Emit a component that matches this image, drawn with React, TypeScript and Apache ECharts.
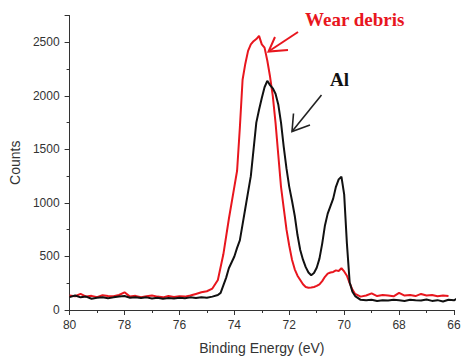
import React, { useEffect, useRef } from "react";
import * as echarts from "echarts";

// XPS Al 2p spectra: wear debris vs. reference Al
const debrisEnergy = [
  80.0, 79.8, 79.6, 79.4, 79.2, 79.0, 78.8, 78.6, 78.4, 78.2, 78.0, 77.8, 77.6, 77.4, 77.2, 77.0,
  76.8, 76.6, 76.4, 76.2, 76.0, 75.8, 75.6, 75.4, 75.2, 75.0, 74.8, 74.6, 74.4, 74.2, 74.0, 73.9,
  73.8, 73.7, 73.6, 73.5, 73.4, 73.3, 73.2, 73.1, 73.0, 72.9, 72.8, 72.7, 72.6, 72.5, 72.4, 72.3,
  72.2, 72.1, 72.0, 71.9, 71.8, 71.7, 71.6, 71.5, 71.4, 71.3, 71.2, 71.1, 71.0, 70.9, 70.8, 70.7,
  70.6, 70.5, 70.4, 70.3, 70.2, 70.1, 70.0, 69.9, 69.8, 69.7, 69.6, 69.4, 69.2, 69.0, 68.8, 68.6,
  68.4, 68.2, 68.0, 67.8, 67.6, 67.4, 67.2, 67.0, 66.8, 66.6, 66.4, 66.2,
];
const debrisCounts = [
  135, 128, 150, 125, 132, 120, 138, 130, 128, 140, 165, 125, 132, 120, 128, 135,
  125, 118, 130, 122, 128, 125, 135, 150, 165, 175, 200, 280, 520, 850, 1150, 1300,
  1700, 2150, 2300, 2420, 2480, 2510, 2530, 2560, 2480, 2450, 2330, 2180, 2000, 1750, 1450, 1150,
  950, 750, 600, 470, 380, 320, 280, 240, 215, 208, 210, 215, 225, 240, 270, 310,
  340, 350, 355, 370, 365, 390, 360, 320, 250, 190, 150, 125, 135, 155, 130, 140,
  135, 128, 160, 135, 140, 130, 150, 135, 140, 128, 135, 130,
];

const alEnergy = [
  80.0, 79.8, 79.6, 79.4, 79.2, 79.0, 78.8, 78.6, 78.4, 78.2, 78.0, 77.8, 77.6, 77.4, 77.2, 77.0,
  76.8, 76.6, 76.4, 76.2, 76.0, 75.8, 75.6, 75.4, 75.2, 75.0, 74.8, 74.6, 74.5, 74.4, 74.3, 74.2,
  74.0, 73.9, 73.8, 73.7, 73.6, 73.5, 73.4, 73.3, 73.2, 73.1, 73.0, 72.9, 72.8, 72.7, 72.6, 72.5,
  72.4, 72.3, 72.2, 72.1, 72.0, 71.9, 71.8, 71.7, 71.6, 71.5, 71.4, 71.3, 71.2, 71.1, 71.0, 70.9,
  70.8, 70.7, 70.6, 70.5, 70.4, 70.3, 70.2, 70.1, 70.0, 69.9, 69.8, 69.7, 69.6, 69.4, 69.2, 69.0,
  68.8, 68.6, 68.4, 68.2, 68.0, 67.8, 67.6, 67.4, 67.2, 67.0, 66.8, 66.6, 66.4, 66.2, 66.0, 65.9,
];
const alCounts = [
  120, 135, 118, 125, 105, 115, 120, 110, 118, 125, 130, 115, 120, 112, 118, 108,
  115, 105, 112, 108, 115, 110, 118, 112, 120, 115, 125, 140, 160, 230, 300, 390,
  500, 580, 650, 800, 950, 1100, 1250, 1500, 1750, 1870, 1980, 2080, 2140, 2100, 2070, 2020,
  1920, 1750, 1520, 1320, 1150, 1020, 880, 700, 560, 470, 400, 350, 325, 345, 395, 480,
  620, 790, 900, 970, 1040, 1150, 1220, 1245, 1080, 620, 260, 170, 130, 95, 90, 95,
  85, 92, 88, 95, 90, 85, 95, 90, 88, 98, 85, 92, 80, 95, 90, 105,
];

const xTicks = { min: 66, max: 80, interval: 2 };
const yTicks = { min: 0, max: 2750, interval: 500 };

const zip = (xs: number[], ys: number[]) => xs.map((x, i) => [x, ys[i]]);

export default function App() {
  const ref = useRef<HTMLDivElement>(null);

  useEffect(() => {
    document.body.style.margin = "0";
    if (!ref.current) return;
    const chart = echarts.init(ref.current, undefined, { renderer: "svg" });
    const axisColor = "#333";
    const labelFont = { fontFamily: "Liberation Sans, Arial, sans-serif", fontSize: 12, color: "#333" };

    chart.setOption({
      animation: false,
      backgroundColor: "#fff",
      grid: { left: 68, right: 22, top: 15.5, bottom: 42, containLabel: false },
      xAxis: {
        type: "value",
        inverse: true,
        min: xTicks.min,
        max: xTicks.max,
        interval: xTicks.interval,
        name: "Binding Energy (eV)",
        nameLocation: "middle",
        nameGap: 31,
        nameTextStyle: { fontFamily: "Liberation Sans, Arial, sans-serif", fontSize: 14, color: "#333" },
        axisLine: { onZero: false, lineStyle: { color: axisColor, width: 1 } },
        axisTick: { show: true, inside: false, length: 5, lineStyle: { color: axisColor } },
        minorTick: { show: true, splitNumber: 2, length: 3, lineStyle: { color: axisColor } },
        axisLabel: { ...labelFont, margin: 9, formatter: (v: number) => String(v) },
        splitLine: { show: false },
      },
      yAxis: {
        type: "value",
        min: yTicks.min,
        max: yTicks.max,
        interval: yTicks.interval,
        name: "Counts",
        nameLocation: "middle",
        nameGap: 44,
        nameTextStyle: { fontFamily: "Liberation Sans, Arial, sans-serif", fontSize: 14, color: "#333" },
        axisLine: { show: true, lineStyle: { color: axisColor, width: 1 } },
        axisTick: { show: true, inside: false, length: 5, lineStyle: { color: axisColor } },
        minorTick: { show: true, splitNumber: 2, length: 3, lineStyle: { color: axisColor } },
        axisLabel: {
          ...labelFont,
          margin: 10,
          showMaxLabel: false,
          formatter: (v: number) => (v % yTicks.interval === 0 ? String(v) : ""),
        },
        splitLine: { show: false },
      },
      series: [
        {
          name: "Wear debris",
          type: "line",
          data: zip(debrisEnergy, debrisCounts),
          showSymbol: false,
          lineStyle: { color: "#e8161e", width: 2 },
          z: 2,
        },
        {
          name: "Al",
          type: "line",
          data: zip(alEnergy, alCounts),
          showSymbol: false,
          lineStyle: { color: "#111", width: 2 },
          z: 3,
        },
      ],
      graphic: [
        {
          type: "text",
          left: 305,
          top: 10,
          style: {
            text: "Wear debris",
            fill: "#e8161e",
            font: "bold 19px 'Liberation Serif', 'Times New Roman', serif",
          },
        },
        {
          type: "text",
          left: 330,
          top: 70,
          style: {
            text: "Al",
            fill: "#111",
            font: "bold 19px 'Liberation Serif', 'Times New Roman', serif",
          },
        },
        // red arrow pointing at the debris peak
        {
          type: "line",
          shape: { x1: 298, y1: 32, x2: 268.5, y2: 51.5 },
          style: { stroke: "#e8161e", lineWidth: 2 },
        },
        {
          type: "polyline",
          shape: { points: [[275, 37], [268.5, 51.5], [288, 50]] },
          style: { stroke: "#e8161e", lineWidth: 2, fill: "none" },
        },
        // black arrow pointing at the Al peak
        {
          type: "line",
          shape: { x1: 321.5, y1: 95, x2: 292, y2: 131.5 },
          style: { stroke: "#222", lineWidth: 1.6 },
        },
        {
          type: "polyline",
          shape: { points: [[293.5, 113.5], [292, 131.5], [310, 125]] },
          style: { stroke: "#222", lineWidth: 1.6, fill: "none" },
        },
      ],
    });

    return () => chart.dispose();
  }, []);

  return (
    <div
      ref={ref}
      style={{ position: "fixed", left: 0, top: 0, width: 476, height: 360 }}
    />
  );
}
